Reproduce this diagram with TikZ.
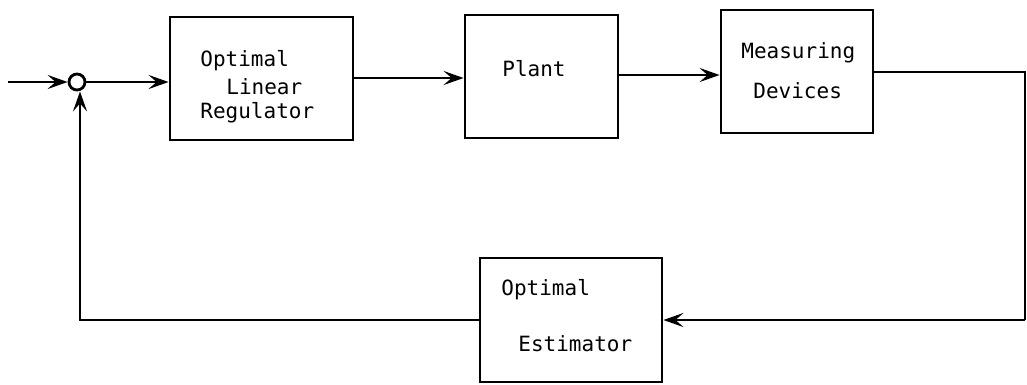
\documentclass[tikz,border=0pt]{standalone}
\usepackage{fontspec}
\setmonofont{DejaVu Sans Mono}
\usetikzlibrary{arrows.meta}
\begin{document}
\begin{tikzpicture}[x=1pt,y=-1pt,
  line width=2.8pt,
  blk/.style={draw, line width=2.8pt, inner sep=0pt},
  lbl/.style={anchor=west, inner sep=0pt, font=\ttfamily\fontsize{21}{25}\selectfont},
  sig/.style={-{Stealth[length=20pt,width=14pt,inset=8pt]}},
  sumc/.style={draw, circle, line width=2.8pt, minimum size=16pt, inner sep=0pt}]
\useasboundingbox (0,0) rectangle (1027,384);
% blocks
\node[blk, minimum width=183pt, minimum height=123pt] (reg) at (261.5,78.5) {};
\node[blk, minimum width=153pt, minimum height=123pt] (plant) at (541.5,76.5) {};
\node[blk, minimum width=152pt, minimum height=123pt] (meas) at (797,71.5) {};
\node[blk, minimum width=182pt, minimum height=124pt] (est) at (571,320) {};
\node[sumc] (sum) at (77,82) {};
% labels
\node[lbl] (t1) at (199,61) {Optimal};
\node[lbl] (t2) at (225,87) {Linear};
\node[lbl] (t3) at (199,113) {Regulator};
\node[lbl] (t4) at (501,69) {Plant};
\node[lbl] (t5) at (740,53) {Measuring};
\node[lbl] (t6) at (752,91) {Devices};
\node[lbl] (t7) at (500,290) {Optimal};
\node[lbl] (t8) at (517,344) {Estimator};
% connectors
\coordinate (in) at (8,82);
\coordinate (r1) at (1025,72);
\coordinate (r2) at (1025,320);
\coordinate (fb) at (80,320);
\draw[sig] (in) -- (sum.west);
\draw[sig] (sum.east) -- (sum.east -| reg.west);
\draw[sig] (reg.east |- 0,78) -- (plant.west |- 0,78);
\draw[sig] (plant.east |- 0,75) -- (meas.west |- 0,75);
\draw (meas.east |- r1) -- (r1) -- (r2);
\draw[sig] (r2) -- (est.east |- r2);
\draw[sig] (est.west |- fb) -- (fb) -- (sum.south -| fb);
\end{tikzpicture}
\end{document}
